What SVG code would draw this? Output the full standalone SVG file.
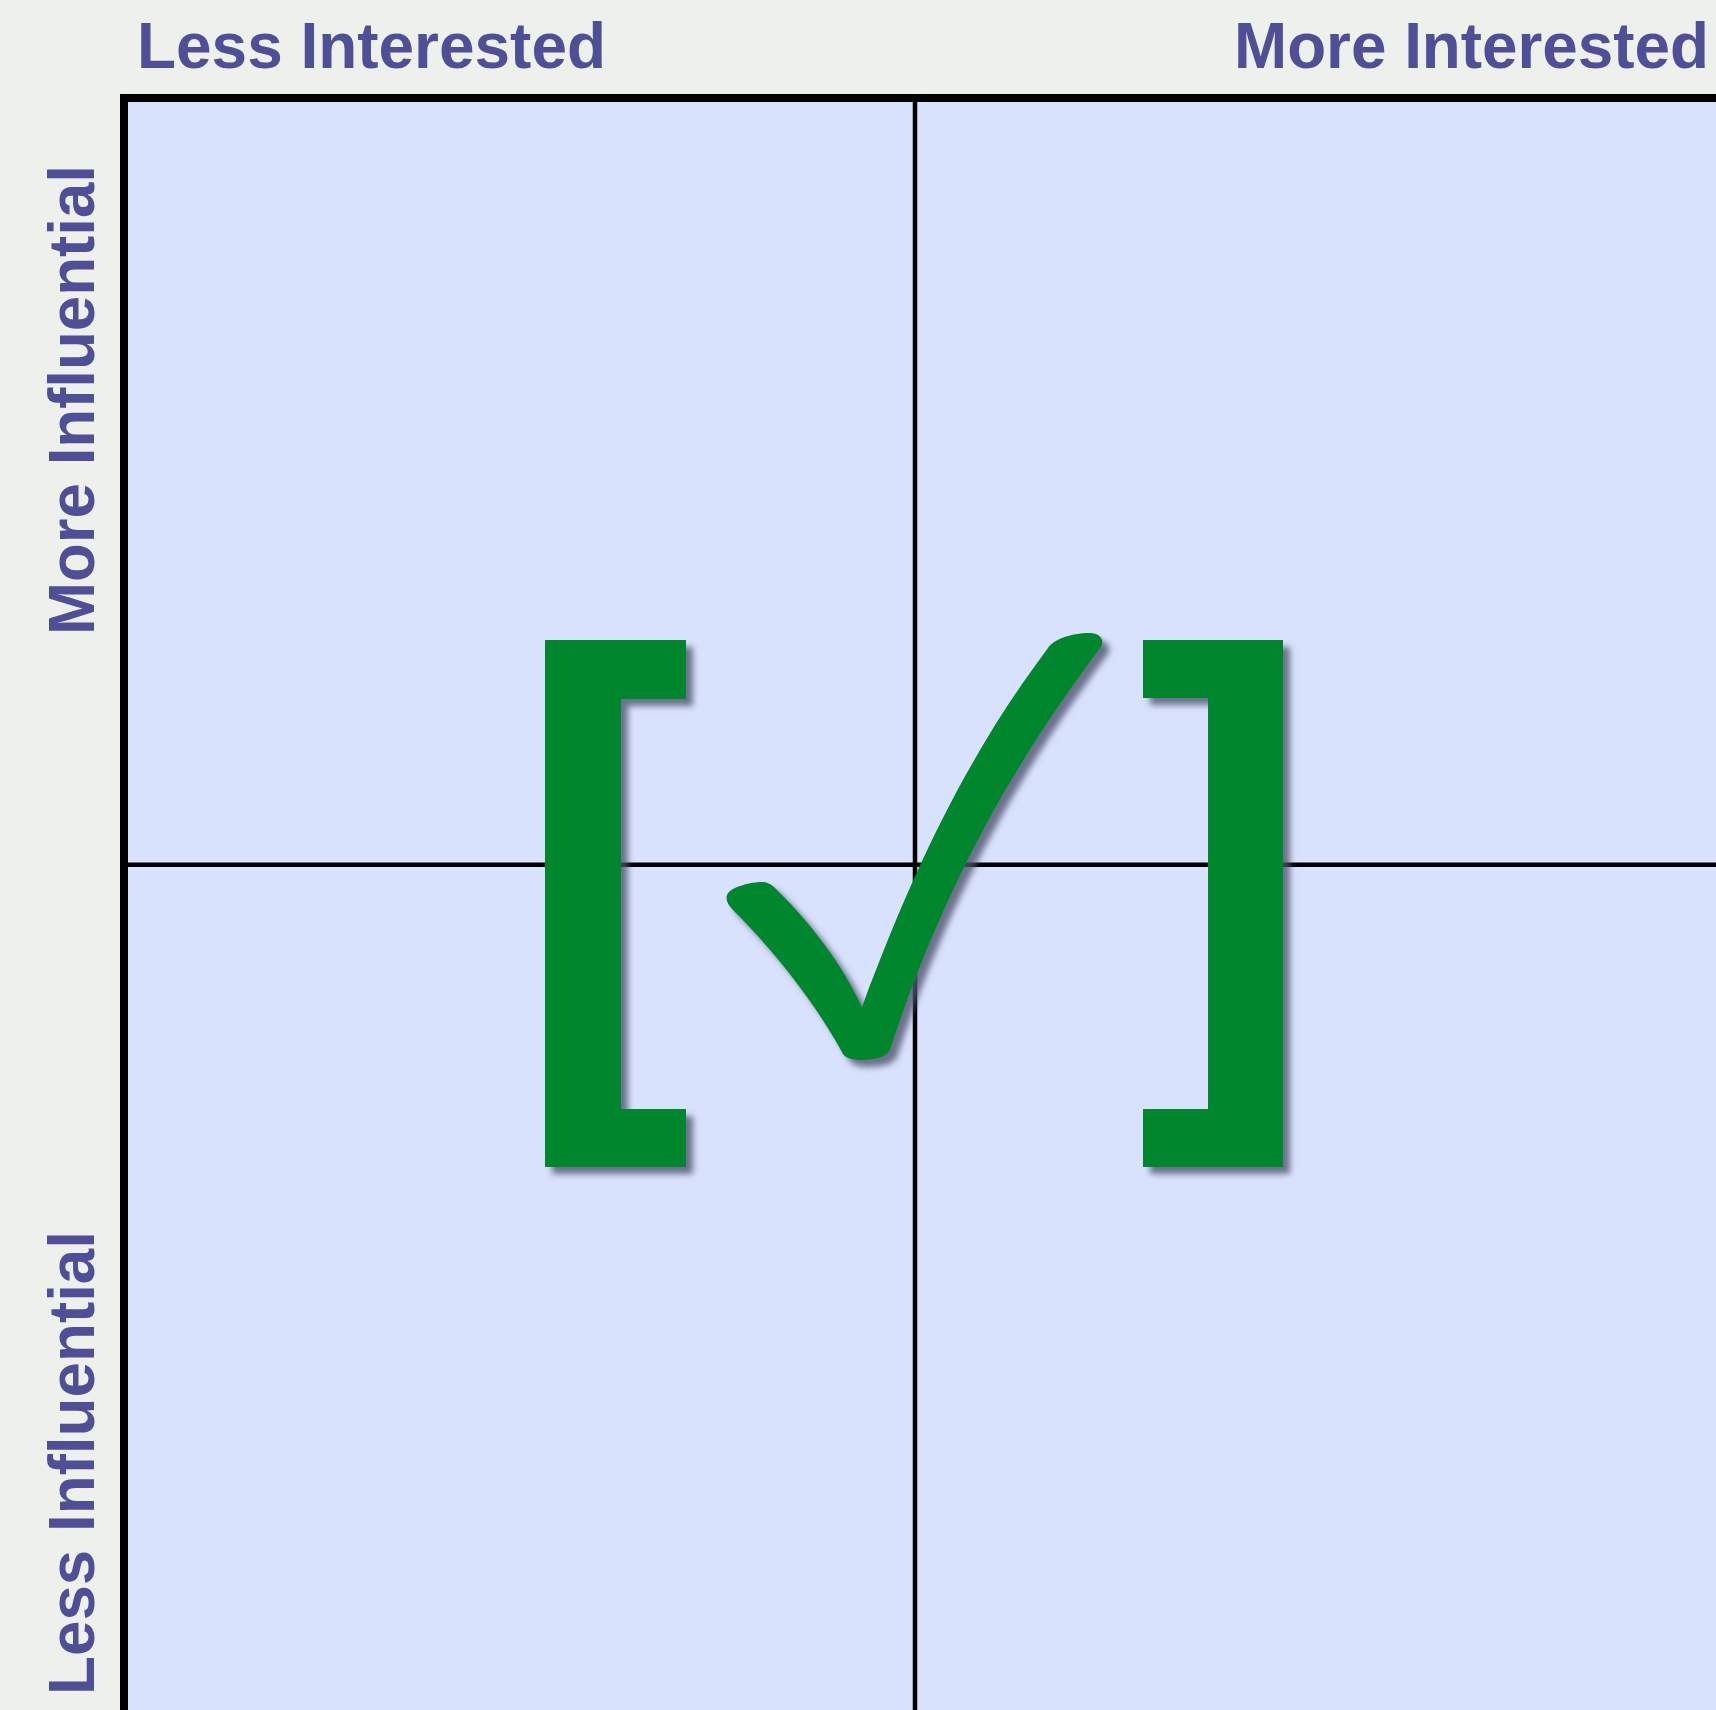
<svg xmlns="http://www.w3.org/2000/svg" width="1716" height="1710" viewBox="0 0 1716 1710">
  <defs>
    <style>
      .lbl { font-family: "Liberation Sans", Arial, sans-serif; font-weight: bold; font-size: 65px; fill: #4E4F97; }
      .div { stroke: #000; stroke-width: 4.5; fill: none; }
      .mark { fill: #02872F; }
    </style>
    <filter id="shadow" x="-10%" y="-10%" width="130%" height="130%">
      <feDropShadow dx="7" dy="7" stdDeviation="3" flood-color="#4f5370" flood-opacity="0.8"/>
    </filter>
  </defs>
  <rect x="0" y="0" width="1716" height="1710" fill="#EEF0EB"/>
  <g id="grid">
    <rect x="124" y="98" width="1700" height="1700" fill="#D9E2FD" stroke="#000" stroke-width="8"/>
  </g>
  <g id="dividers">
    <line class="div" x1="915" y1="100" x2="915" y2="1710"/>
    <line class="div" x1="126" y1="864.8" x2="1716" y2="864.8"/>
  </g>
  <g id="label-less-interested"><text class="lbl" x="137" y="68" textLength="469" lengthAdjust="spacingAndGlyphs">Less Interested</text></g>
  <g id="label-more-interested"><text class="lbl" x="1234" y="68" textLength="475" lengthAdjust="spacingAndGlyphs">More Interested</text></g>
  <g id="label-more-influential"><text class="lbl" transform="translate(94,635) rotate(-90)" textLength="470" lengthAdjust="spacingAndGlyphs">More Influential</text></g>
  <g id="label-less-influential"><text class="lbl" transform="translate(94,1695) rotate(-90)" textLength="464" lengthAdjust="spacingAndGlyphs">Less Influential</text></g>
  <g id="checkmark" filter="url(#shadow)">
    <polygon class="mark" points="545,640 686,640 686,699 621,699 621,1109 686,1109 686,1167 545,1167"/>
    <polygon class="mark" points="1283,640 1143,640 1143,698 1208,698 1208,1109 1143,1109 1143,1167 1283,1167"/>
    <path class="mark" d="M 862,1007 C 917.5,857 973,748 1048,648 C 1053,640 1070,633 1090,633 C 1100,633 1105,640 1101,647 C 1003.5,777 939.5,900 890,1050 C 887,1057 875,1060 862,1060 C 852,1060 846,1058 843,1054 C 822,1015 785,962 733,910 C 724,901 724,893 735,888 C 744,884 754,882 762,882 C 767,882 771,884 774,887 C 800,912 838,955 862,1007 Z"/>
  </g>
</svg>
